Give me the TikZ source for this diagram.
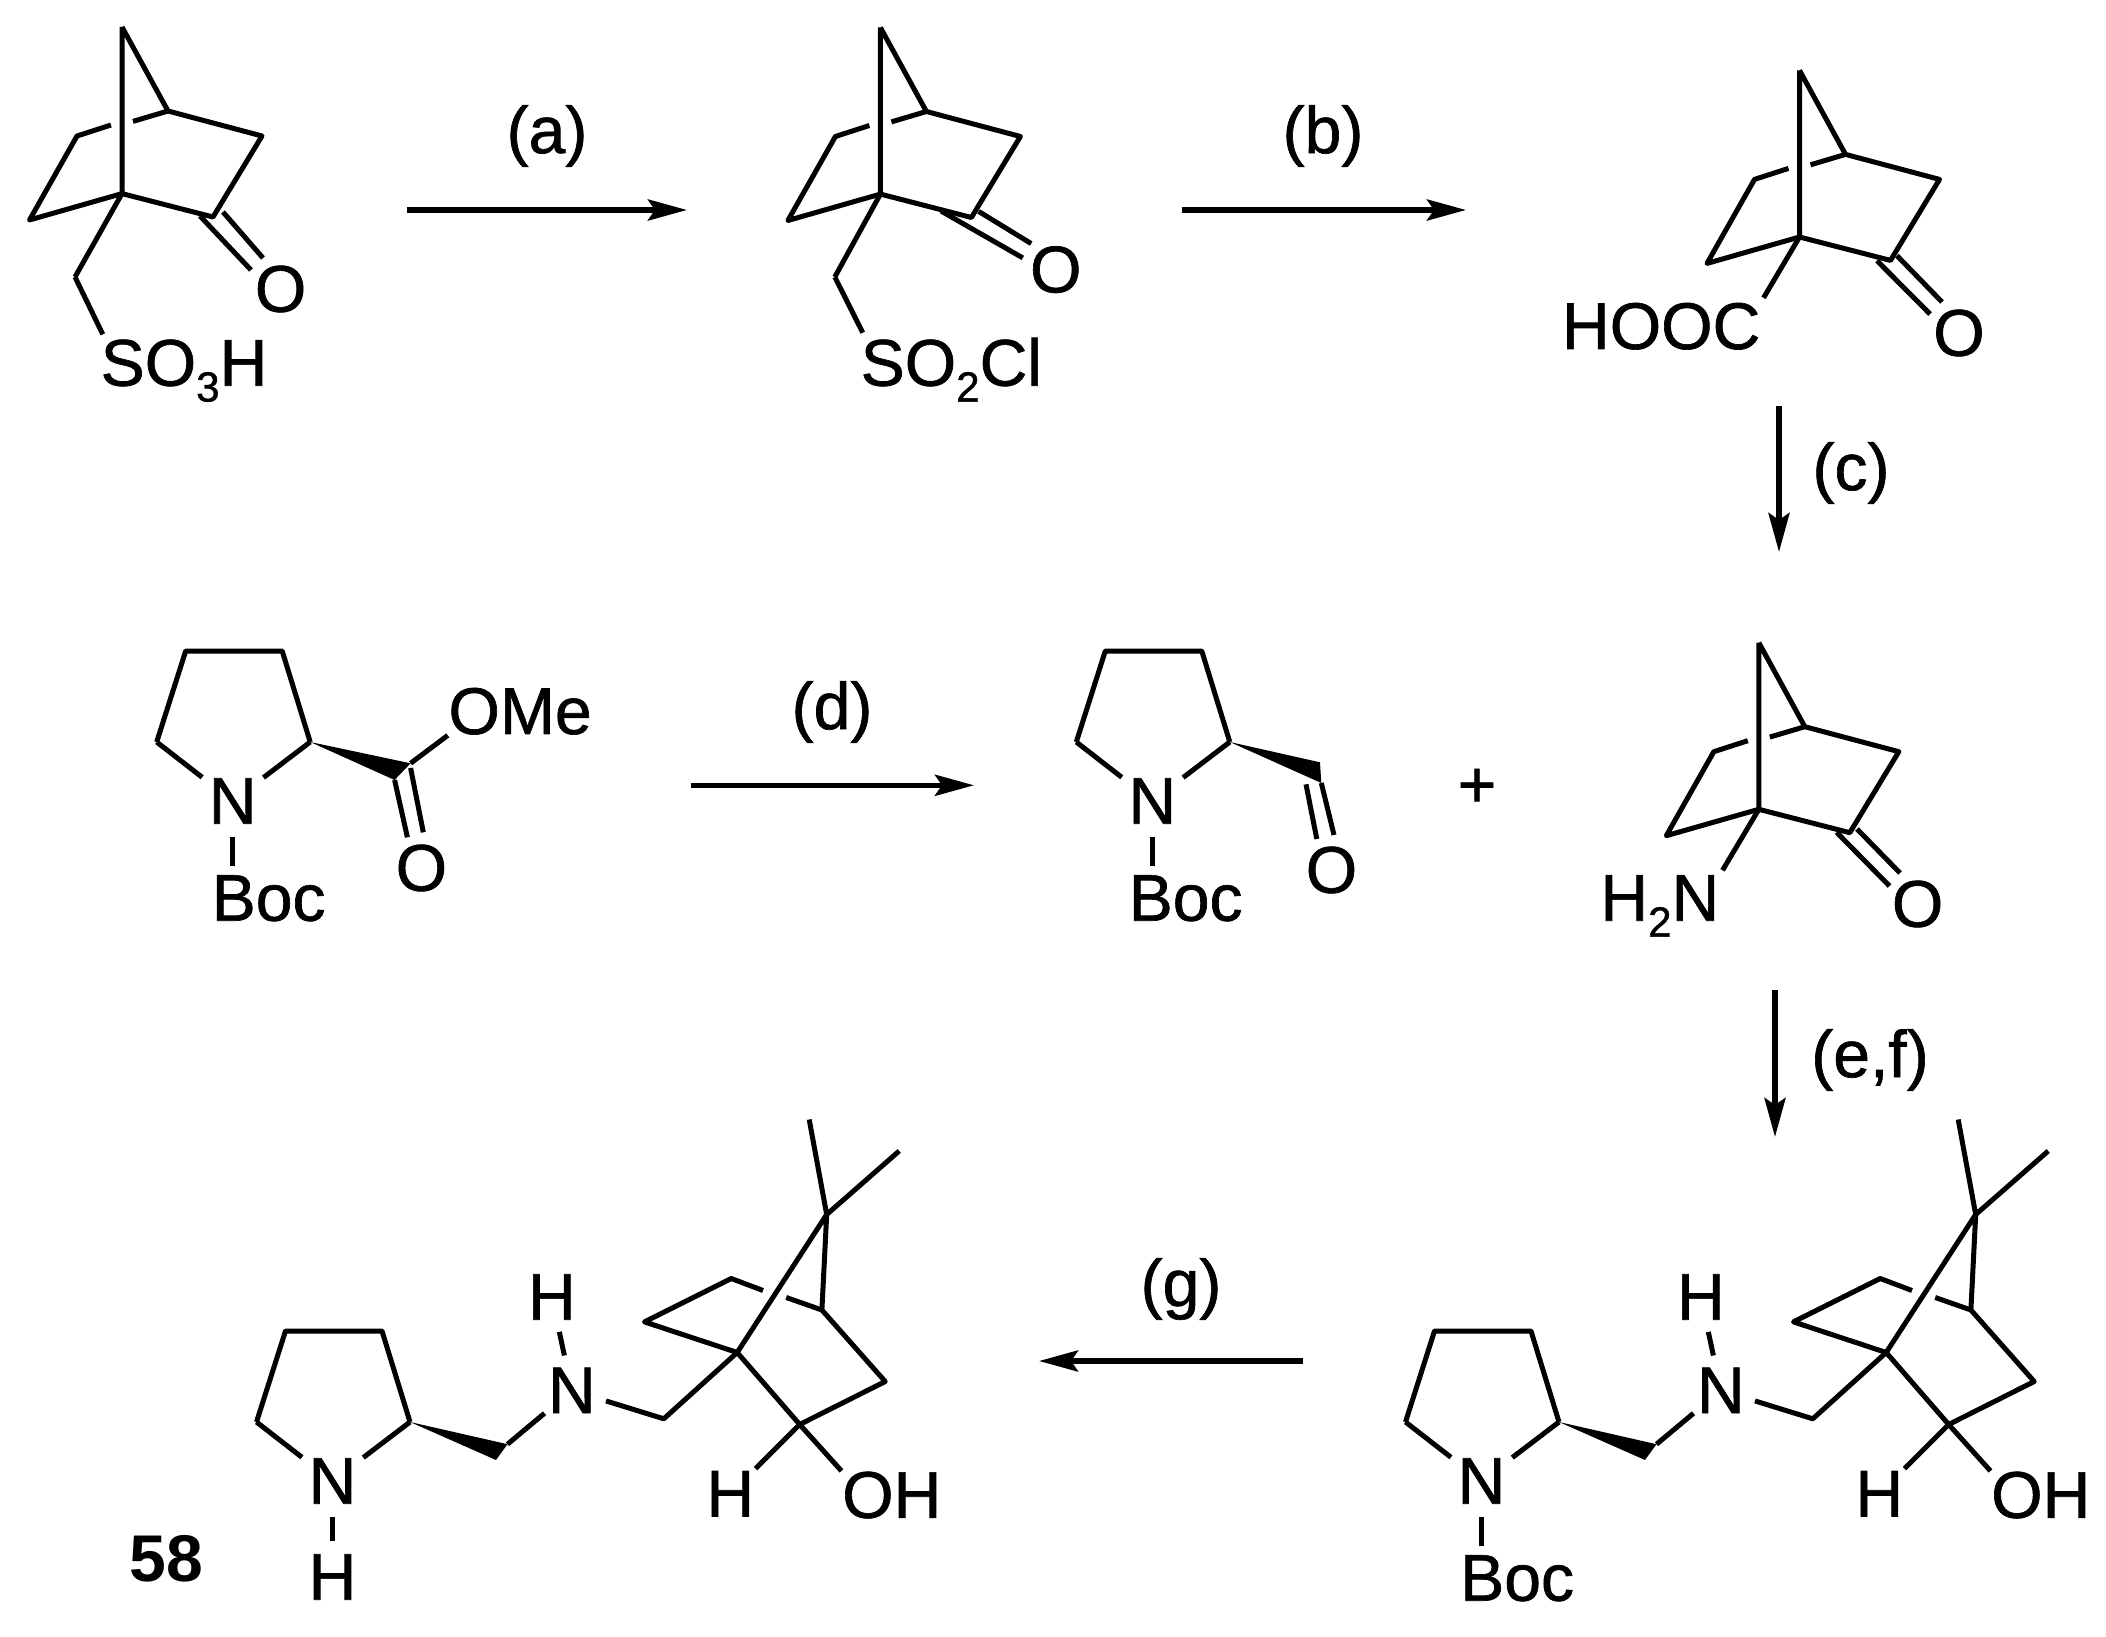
\documentclass[tikz,border=0pt]{standalone}
\usepackage{fontspec}
\setmainfont{Liberation Sans}[UprightFeatures={FakeBold=1}]
\usetikzlibrary{arrows.meta}
\def\chemfont{\fontsize{18.8pt}{22pt}\selectfont}
\def\subs#1{\raisebox{-0.24em}{\fontsize{12pt}{14pt}\selectfont #1}}
\tikzset{
	bond/.style={line width=0.5mm, line join=round},
	rxn/.style={line width=0.55mm, -{Stealth[length=3.9mm,width=2.1mm,inset=0.7mm]}},
	atom/.style={circle, inner sep=0pt, minimum size=0.7cm, font=\chemfont},
	grp/.style={inner sep=0pt, font=\chemfont},
}
% bicyclic ketone, apex of the bridge at #2
\def\ketoring[#1](#2){
	\begin{scope}[shift={(#2)}]
		\coordinate (#1apex) at (0, 0);
		\coordinate (#1head) at (0, 1.666);
		\coordinate (#1far) at (0.46, 0.84);
		\coordinate (#1rt) at (1.40, 1.09);
		\coordinate (#1co) at (0.91, 1.90);
		\coordinate (#1lt) at (-0.45, 1.09);
		\coordinate (#1lb) at (-0.925, 1.93);
		\coordinate (#1gapl) at (-0.11, 0.98);
		\coordinate (#1gapr) at (0.11, 0.944);
		\draw[bond] (#1apex) -- (#1head) -- (#1co) -- (#1rt) -- (#1far) -- (#1apex);
		\draw[bond] (#1head) -- (#1lb) -- (#1lt) -- (#1gapl);
		\draw[bond] (#1gapr) -- (#1far);
	\end{scope}
}
% two strokes of a C=O
\def\carbonyl[#1](#2)(#3)(#4)(#5){
	\coordinate (#1da) at (#2);
	\coordinate (#1db) at (#3);
	\coordinate (#1dc) at (#4);
	\coordinate (#1dd) at (#5);
	\draw[bond] (#1da) -- (#1db);
	\draw[bond] (#1dc) -- (#1dd);
}
% five-membered ring, N at #2
\def\pyrrol[#1](#2){
	\begin{scope}[shift={(#2)}]
		\node[atom] (#1N) at (0, 0) {N};
		\coordinate (#1tl) at (-0.47, -1.50);
		\coordinate (#1tr) at (0.495, -1.50);
		\coordinate (#1r) at (0.775, -0.59);
		\coordinate (#1l) at (-0.76, -0.59);
		\draw[bond, shorten >=0.03cm] (#1r) -- (#1N);
		\draw[bond, shorten >=0.03cm] (#1l) -- (#1N);
		\draw[bond] (#1l) -- (#1tl) -- (#1tr) -- (#1r);
	\end{scope}
}
% amino alcohol part of the lower row, same origin as the ring
\def\camphane[#1](#2){
	\begin{scope}[shift={(#2)}]
		\coordinate (#1wa) at (1.75, -0.368);
		\coordinate (#1wb) at (1.635, -0.21);
		\fill (#1r) -- (#1wa) -- (#1wb) -- cycle;
		\node[atom] (#1amN) at (2.394, -0.906) {N};
		\node[atom] (#1amH) at (2.193, -1.84) {H};
		\coordinate (#1ch) at (3.313, -0.622);
		\coordinate (#1bh) at (4.047, -1.285);
		\coordinate (#1top) at (4.942, -2.665);
		\coordinate (#1mea) at (4.767, -3.615);
		\coordinate (#1meb) at (5.667, -3.30);
		\coordinate (#1lt) at (3.987, -2.025);
		\coordinate (#1lb) at (3.12, -1.591);
		\coordinate (#1gapl) at (4.305, -1.905);
		\coordinate (#1gapr) at (4.537, -1.835);
		\coordinate (#1far) at (4.894, -1.71);
		\coordinate (#1rt) at (5.527, -0.995);
		\coordinate (#1coh) at (4.672, -0.565);
		\node[atom] (#1H) at (3.978, 0.128) {H};
		\node[grp, anchor=base west] (#1OH) at (5.09, 0.368) {OH};
		\draw[bond] (#1wa) -- (#1amN);
		\draw[bond] (#1amN) -- (#1amH);
		\draw[bond] (#1amN) -- (#1ch) -- (#1bh) -- (#1top) -- (#1far) -- (#1rt) -- (#1coh) -- (#1bh);
		\draw[bond] (#1mea) -- (#1top) -- (#1meb);
		\draw[bond] (#1bh) -- (#1lb) -- (#1lt) -- (#1gapl);
		\draw[bond] (#1gapr) -- (#1far);
		\draw[bond] (#1coh) -- (#1H);
		\draw[bond] (#1coh) -- (#1OH.north west);
	\end{scope}
}

\begin{document}
\begin{tikzpicture}[y=-1cm]
	\useasboundingbox (0, 0) rectangle (21.06, 16.37);
	
	%%%%% top row %%%%%
	\ketoring[sa](1.22, 0.27);
	\coordinate (sach) at (0.75, 2.77);
	\node[grp, anchor=base west] (saS) at (1.00, 3.857) {SO\subs{3}H};
	\node[atom] (saO) at (2.806, 2.89) {O};
	\draw[bond] (sahead) -- (sach);
	\draw[bond, shorten >=0.05cm] (sach) -- ([xshift=0.05cm]saS.north west);
	\carbonyl[sa](2.00, 2.16)(2.51, 2.70)(2.23, 2.12)(2.63, 2.58);
	
	\coordinate (arra) at (4.07, 2.10);
	\coordinate (arrb) at (6.87, 2.10);
	\draw[rxn] (arra) -- (arrb);
	\node[grp] (laba) at (5.47, 1.36) {(a)};
	
	\ketoring[sc](8.804, 0.275);
	\coordinate (scch) at (8.348, 2.77);
	\node[grp, anchor=base west] (scS) at (8.60, 3.857) {SO\subs{2}Cl};
	\node[atom] (scO) at (10.558, 2.696) {O};
	\draw[bond] (schead) -- (scch);
	\draw[bond, shorten >=0.05cm] (scch) -- ([xshift=0.05cm]scS.north west);
	\carbonyl[sc](9.41, 2.11)(10.228, 2.579)(9.786, 2.114)(10.312, 2.436);
	
	\coordinate (arrc) at (11.82, 2.10);
	\coordinate (arrd) at (14.66, 2.10);
	\draw[rxn] (arrc) -- (arrd);
	\node[grp] (labb) at (13.23, 1.36) {(b)};
	
	\ketoring[ac](17.995, 0.704);
	\node[grp, anchor=base east] (acC) at (17.61, 3.49) {HOOC};
	\node[atom] (acO) at (19.59, 3.33) {O};
	\draw[bond, shorten >=0.05cm] (achead) -- (acC.north east);
	\carbonyl[ac](18.77, 2.607)(19.30, 3.14)(18.97, 2.557)(19.42, 3.02);
	
	\coordinate (arre) at (17.79, 4.06);
	\coordinate (arrf) at (17.79, 5.52);
	\draw[rxn] (arre) -- (arrf);
	\node[grp] (labc) at (18.51, 4.73) {(c)};
	
	%%%%% middle row %%%%%
	\pyrrol[es](2.327, 8.01);
	\coordinate (esc) at (4.106, 7.633);
	\coordinate (esw) at (3.946, 7.80);
	\coordinate (esb) at (2.327, 8.66);
	\fill (esr) -- (esc) -- (esw) -- cycle;
	\node[grp, anchor=base west] (esMe) at (4.478, 7.34) {OMe};
	\node[grp, anchor=base west] (esBoc) at (2.11, 9.207) {Boc};
	\node[atom] (esO) at (4.214, 8.68) {O};
	\draw[bond] (esc) -- (esMe.south west);
	\draw[bond] (esN) -- (esb);
	\carbonyl[es](3.946, 7.80)(4.074, 8.373)(4.106, 7.68)(4.233, 8.323);
	
	\coordinate (arrg) at (6.91, 7.853);
	\coordinate (arrh) at (9.74, 7.853);
	\draw[rxn] (arrg) -- (arrh);
	\node[grp] (labd) at (8.32, 7.12) {(d)};
	
	\pyrrol[al](11.523, 8.01);
	\coordinate (alc) at (13.20, 7.623);
	\coordinate (alw) at (13.213, 7.83);
	\coordinate (alb) at (11.523, 8.66);
	\fill (alr) -- (alc) -- (alw) -- cycle;
	\node[grp, anchor=base west] (alBoc) at (11.28, 9.207) {Boc};
	\node[atom] (alO) at (13.315, 8.70) {O};
	\draw[bond] (alN) -- (alb);
	\carbonyl[al](13.213, 7.83)(13.34, 8.35)(13.06, 7.843)(13.168, 8.39);
	
	\node[grp] (plus) at (14.77, 7.88) {+};
	
	\ketoring[am](17.588, 6.427);
	\node[grp, anchor=base east] (amN) at (17.20, 9.207) {H\subs{2}N};
	\node[atom] (amO) at (19.176, 9.04) {O};
	\draw[bond, shorten >=0.05cm] (amhead) -- (amN.north east);
	\carbonyl[am](18.366, 8.323)(18.895, 8.86)(18.57, 8.29)(19.00, 8.73);
	
	\coordinate (arri) at (17.75, 9.90);
	\coordinate (arrj) at (17.75, 11.37);
	\draw[rxn] (arri) -- (arrj);
	\node[grp] (labe) at (18.70, 10.60) {(e,f)};
	
	%%%%% bottom row %%%%%
	\pyrrol[bo](14.815, 14.81);
	\camphane[bo](14.815, 14.81);
	\coordinate (bob) at (14.815, 15.46);
	\node[grp, anchor=base west] (boBoc) at (14.595, 16.007) {Boc};
	\draw[bond] (boN) -- (bob);
	
	\coordinate (arrk) at (13.03, 13.61);
	\coordinate (arrl) at (10.39, 13.61);
	\draw[rxn] (arrk) -- (arrl);
	\node[grp] (labg) at (11.81, 12.89) {(g)};
	
	\pyrrol[nh](3.325, 14.81);
	\camphane[nh](3.325, 14.81);
	\node[atom] (nhH) at (3.325, 15.77) {H};
	\draw[bond] (nhN) -- (nhH);
	\node[grp, font=\chemfont\bfseries] (cpd) at (1.666, 15.59) {58};
\end{tikzpicture}
\end{document}
